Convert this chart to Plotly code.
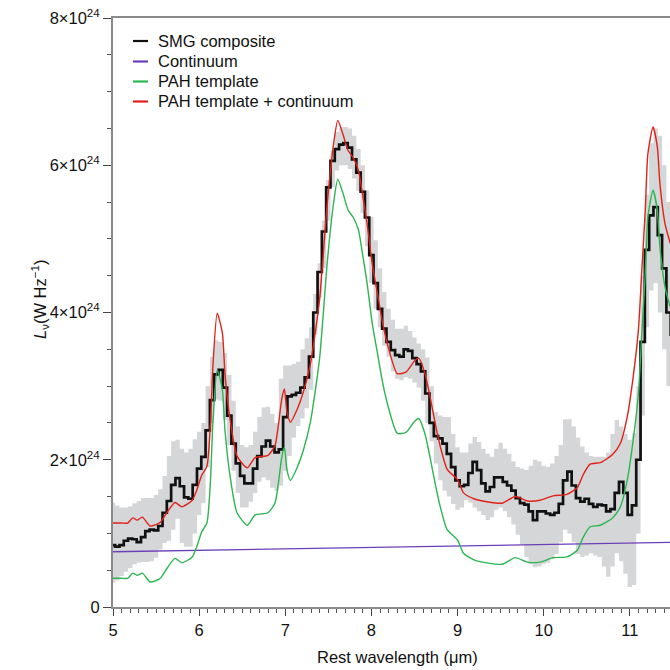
import plotly.graph_objects as go

# Wavelength grid of the binned SMG composite (rest frame, micron)
wave_smg = [5.00, 5.05, 5.10, 5.15, 5.20, 5.25, 5.30, 5.35, 5.40, 5.45,
            5.50, 5.55, 5.60, 5.65, 5.70, 5.75, 5.80, 5.85, 5.90, 5.95,
            6.00, 6.05, 6.10, 6.15, 6.20, 6.25, 6.30, 6.35, 6.40, 6.45,
            6.50, 6.55, 6.60, 6.65, 6.70, 6.75, 6.80, 6.85, 6.90, 6.95,
            7.00, 7.05, 7.10, 7.15, 7.20, 7.25, 7.30, 7.35, 7.40, 7.45,
            7.50, 7.55, 7.60, 7.65, 7.70, 7.75, 7.80, 7.85, 7.90, 7.95,
            8.00, 8.05, 8.10, 8.15, 8.20, 8.25, 8.30, 8.35, 8.40, 8.45,
            8.50, 8.55, 8.60, 8.65, 8.70, 8.75, 8.80, 8.85, 8.90, 8.95,
            9.00, 9.05, 9.10, 9.15, 9.20, 9.25, 9.30, 9.35, 9.40, 9.45,
            9.50, 9.55, 9.60, 9.65, 9.70, 9.75, 9.80, 9.85, 9.90, 9.95,
            10.00, 10.05, 10.10, 10.15, 10.20, 10.25, 10.30, 10.35, 10.40, 10.45,
            10.50, 10.55, 10.60, 10.65, 10.70, 10.75, 10.80, 10.85, 10.90, 10.95,
            11.00, 11.05, 11.10, 11.15, 11.20, 11.25, 11.30, 11.35, 11.40, 11.45,
            11.50]

# SMG composite L_nu in units of 1e24 W/Hz
smg = [0.84, 0.82, 0.84, 0.90, 0.93, 0.92, 0.88, 0.95, 1.03, 1.05,
       1.04, 1.10, 1.28, 1.44, 1.66, 1.75, 1.64, 1.49, 1.47, 1.66,
       1.88, 2.04, 2.40, 2.81, 3.16, 3.22, 2.98, 2.60, 2.22, 1.95,
       1.78, 1.68, 1.68, 1.88, 2.05, 2.18, 2.26, 2.18, 2.10, 2.14,
       2.58, 2.86, 2.88, 2.91, 2.98, 3.12, 3.40, 4.00, 4.55, 5.10,
       5.70, 6.06, 6.22, 6.28, 6.30, 6.24, 6.08, 5.90, 5.64, 5.29,
       4.78, 4.40, 4.05, 3.78, 3.60, 3.49, 3.42, 3.40, 3.50, 3.48,
       3.38, 3.30, 3.20, 2.90, 2.50, 2.32, 2.29, 2.22, 2.08, 1.90,
       1.72, 1.64, 1.66, 1.82, 1.97, 1.86, 1.68, 1.57, 1.63, 1.76,
       1.76, 1.70, 1.65, 1.58, 1.48, 1.41, 1.39, 1.30, 1.18, 1.30,
       1.30, 1.27, 1.25, 1.28, 1.40, 1.72, 1.84, 1.65, 1.48, 1.43,
       1.47, 1.40, 1.36, 1.39, 1.38, 1.30, 1.33, 1.55, 1.70, 1.55,
       1.25, 1.38, 2.00, 3.60, 4.85, 5.32, 5.43, 5.05, 4.60, 4.00,
       3.70]

# Upper and lower edges of the uncertainty band (1e24 W/Hz)
smg_upper = [1.42, 1.38, 1.35, 1.35, 1.37, 1.41, 1.44, 1.48, 1.48, 1.48,
             1.52, 1.60, 1.78, 2.05, 2.25, 2.27, 2.15, 2.10, 2.15, 2.28,
             2.38, 2.50, 3.00, 3.40, 3.62, 3.60, 3.45, 3.15, 2.80, 2.45,
             2.20, 2.17, 2.20, 2.38, 2.58, 2.71, 2.72, 2.62, 2.50, 3.10,
             3.28, 3.28, 3.30, 3.33, 3.50, 3.65, 3.80, 4.25, 4.67, 5.25,
             5.80, 6.20, 6.45, 6.52, 6.52, 6.50, 6.40, 6.22, 6.00, 5.66,
             5.30, 4.98, 4.60, 4.28, 4.05, 3.90, 3.78, 3.78, 3.82, 3.75,
             3.66, 3.58, 3.50, 3.39, 3.00, 2.65, 2.60, 2.58, 2.58, 2.35,
             2.17, 2.10, 2.10, 2.22, 2.31, 2.24, 2.15, 2.08, 2.04, 2.15,
             2.23, 2.15, 2.08, 1.98, 1.90, 1.88, 1.86, 1.92, 2.00, 1.98,
             1.92, 1.90, 1.95, 2.05, 2.20, 2.55, 2.55, 2.45, 2.30, 2.18,
             2.10, 2.05, 2.04, 2.04, 2.04, 2.10, 2.35, 2.54, 2.45, 2.35,
             2.27, 2.36, 3.00, 4.50, 5.60, 6.30, 6.50, 6.40, 6.00, 5.50,
             5.20]

smg_lower = [0.33, 0.36, 0.42, 0.48, 0.53, 0.58, 0.60, 0.61, 0.61, 0.62,
             0.67, 0.78, 0.87, 0.90, 1.05, 1.20, 0.87, 0.82, 0.82, 1.00,
             1.25, 1.41, 1.90, 2.50, 2.82, 2.80, 2.54, 2.20, 1.85, 1.55,
             1.35, 1.35, 1.43, 1.55, 1.70, 1.76, 1.72, 1.62, 1.58, 1.65,
             1.85, 2.05, 2.30, 2.46, 2.56, 2.70, 2.95, 3.70, 4.20, 4.60,
             5.25, 5.70, 5.93, 6.00, 6.00, 5.95, 5.82, 5.65, 5.35, 4.90,
             4.40, 4.05, 3.80, 3.55, 3.40, 3.20, 3.10, 3.08, 3.12, 3.10,
             3.05, 2.98, 2.80, 2.50, 2.25, 1.95, 1.72, 1.58, 1.50, 1.40,
             1.32, 1.35, 1.45, 1.42, 1.35, 1.30, 1.25, 1.18, 1.22, 1.32,
             1.35, 1.30, 1.22, 1.12, 0.98, 0.85, 0.68, 0.58, 0.54, 0.55,
             0.58, 0.60, 0.65, 0.72, 0.88, 1.05, 1.00, 0.88, 0.72, 0.68,
             0.70, 0.73, 0.70, 0.68, 0.55, 0.41, 0.55, 0.73, 0.62, 0.45,
             0.27, 0.30, 1.00, 2.60, 3.80, 4.30, 4.40, 4.00, 3.50, 3.00,
             2.70]

# Continuum (1e24 W/Hz)
wave_cont = [5.0, 11.6]
continuum = [0.75, 0.88]

# PAH template (1e24 W/Hz)
wave_pah = [5.00, 5.10, 5.17, 5.23, 5.28, 5.34, 5.43, 5.50, 5.55, 5.63,
            5.72, 5.80, 5.92, 5.97, 6.03, 6.09, 6.13, 6.16, 6.21, 6.27,
            6.30, 6.36, 6.44, 6.56, 6.65, 6.80, 6.88, 6.92, 6.96, 6.99,
            7.02, 7.06, 7.14, 7.21, 7.29, 7.35, 7.40, 7.49, 7.56, 7.61,
            7.67, 7.73, 7.79, 7.85, 7.89, 7.95, 8.01, 8.07, 8.13, 8.20,
            8.30, 8.40, 8.50, 8.55, 8.62, 8.68, 8.74, 8.80, 8.88, 9.00,
            9.07, 9.19, 9.34, 9.52, 9.67, 9.81, 9.96, 10.11, 10.27, 10.39,
            10.46, 10.54, 10.66, 10.80, 10.89, 10.97, 11.04, 11.10, 11.14, 11.18,
            11.21, 11.27, 11.32, 11.35, 11.41, 11.47]
pah = [0.39, 0.39, 0.39, 0.46, 0.43, 0.46, 0.34, 0.36, 0.39, 0.53,
       0.66, 0.60, 0.68, 0.81, 1.02, 1.14, 1.68, 2.50, 3.22, 2.95,
       2.40, 1.77, 1.28, 1.11, 1.25, 1.28, 1.41, 1.68, 2.04, 2.17,
       1.86, 1.72, 1.90, 2.13, 2.50, 2.95, 3.39, 4.71, 5.48, 5.81,
       5.62, 5.39, 5.29, 5.12, 4.85, 4.40, 3.85, 3.45, 3.05, 2.70,
       2.36, 2.37, 2.52, 2.56, 2.36, 2.04, 1.68, 1.36, 1.05, 0.91,
       0.73, 0.64, 0.60, 0.58, 0.67, 0.61, 0.61, 0.67, 0.68, 0.77,
       0.95, 1.09, 1.11, 1.21, 1.36, 1.72, 2.27, 2.90, 3.72, 4.53,
       5.29, 5.66, 5.39, 4.89, 4.34, 4.07]

# PAH template + continuum (1e24 W/Hz), same wavelengths as the template
pah_cont = [1.14, 1.14, 1.14, 1.21, 1.18, 1.22, 1.10, 1.12, 1.15, 1.29,
            1.42, 1.36, 1.45, 1.58, 1.79, 1.91, 2.45, 3.27, 3.99, 3.72,
            3.17, 2.54, 2.05, 1.89, 2.03, 2.06, 2.19, 2.47, 2.83, 2.96,
            2.65, 2.51, 2.69, 2.92, 3.29, 3.74, 4.19, 5.51, 6.28, 6.61,
            6.42, 6.20, 6.10, 5.93, 5.66, 5.21, 4.66, 4.26, 3.86, 3.51,
            3.17, 3.19, 3.34, 3.38, 3.18, 2.86, 2.50, 2.18, 1.87, 1.73,
            1.55, 1.47, 1.43, 1.41, 1.50, 1.44, 1.45, 1.51, 1.53, 1.62,
            1.80, 1.94, 1.96, 2.07, 2.22, 2.58, 3.13, 3.76, 4.58, 5.39,
            6.15, 6.52, 6.25, 5.75, 5.20, 4.94]

y_tickvals = [0, 2, 4, 6, 8]
y_ticktext = ["0", "2×10<sup>24</sup>", "4×10<sup>24</sup>", "6×10<sup>24</sup>", "8×10<sup>24</sup>"]
x_tickvals = [5, 6, 7, 8, 9, 10, 11]

legend_names = ["SMG composite", "Continuum", "PAH template", "PAH template + continuum"]
C_BLACK = "#111111"
C_PURPLE = "#6b3fb8"
C_GREEN = "#2db552"
C_RED = "#e0221b"
C_BAND = "#d5d6d7"
legend_colors = [C_BLACK, C_PURPLE, C_GREEN, C_RED]

fig = go.Figure()

fig.add_trace(go.Scatter(x=wave_smg, y=smg_lower, mode="lines",
                         line=dict(color=C_BAND, width=0, shape="hvh"),
                         showlegend=False, hoverinfo="skip"))
fig.add_trace(go.Scatter(x=wave_smg, y=smg_upper, mode="lines", fill="tonexty",
                         fillcolor=C_BAND,
                         line=dict(color=C_BAND, width=0, shape="hvh"),
                         showlegend=False, hoverinfo="skip"))
fig.add_trace(go.Scatter(x=wave_smg, y=smg, mode="lines", name=legend_names[0],
                         line=dict(color=C_BLACK, width=2.7, shape="hvh"),
                         showlegend=False))
fig.add_trace(go.Scatter(x=wave_cont, y=continuum, mode="lines", name=legend_names[1],
                         line=dict(color=C_PURPLE, width=1.4), showlegend=False))
fig.add_trace(go.Scatter(x=wave_pah, y=pah, mode="lines", name=legend_names[2],
                         line=dict(color=C_GREEN, width=1.4, shape="spline", smoothing=0.6),
                         showlegend=False))
fig.add_trace(go.Scatter(x=wave_pah, y=pah_cont, mode="lines", name=legend_names[3],
                         line=dict(color=C_RED, width=1.4, shape="spline", smoothing=0.6),
                         showlegend=False))

# geometry of plot area in pixels
L, T, W, H = 113, 18, 557, 589

def px(xp):
    return (xp - L) / W

def py(yp):
    return (T + H - yp) / H

shapes = []
annotations = []
legend_rows = [41, 61.5, 81.5, 101.5]
for name, col, yr in zip(legend_names, legend_colors, legend_rows):
    shapes.append(dict(type="line", xref="paper", yref="paper",
                       x0=px(133), x1=px(148), y0=py(yr), y1=py(yr),
                       line=dict(color=col, width=2.2)))
    annotations.append(dict(text=name, xref="paper", yref="paper",
                            x=px(156), y=py(yr), xanchor="left", yanchor="middle",
                            showarrow=False, font=dict(size=16.5, color="#111111")))

annotations.append(dict(text="Rest wavelength (μm)", xref="paper", yref="paper",
                        x=px(397), y=py(657), xanchor="center", yanchor="middle",
                        showarrow=False, font=dict(size=16.5, color="#111111")))
annotations.append(dict(text="<i>L</i><sub>ν</sub>(W Hz<sup>−1</sup>)", xref="paper", yref="paper",
                        x=px(40), y=py(300), xanchor="center", yanchor="middle",
                        textangle=-90, showarrow=False,
                        font=dict(size=16.5, color="#111111")))

fig.update_layout(
    width=670, height=670,
    margin=dict(l=L, r=670 - L - W, t=T, b=670 - T - H, autoexpand=False),
    paper_bgcolor="white", plot_bgcolor="white",
    font=dict(family="Liberation Sans, Arial, sans-serif", size=16.5, color="#111111"),
    shapes=shapes, annotations=annotations,
    showlegend=False,
)
fig.update_xaxes(range=[5, 11.467], tickvals=x_tickvals, ticks="outside", ticklen=7,
                 tickwidth=1.3, tickcolor="#444444", automargin=False,
                 minor=dict(dtick=0.1, ticks="outside", ticklen=4, tickwidth=1, tickcolor="#555555"),
                 showline=True, linecolor="#8a8a8a", linewidth=2, mirror=True,
                 showgrid=False, zeroline=False, tickfont=dict(size=16.5))
fig.update_yaxes(range=[0, 8], tickvals=y_tickvals, ticktext=y_ticktext, ticks="outside",
                 ticklen=8, tickwidth=1.3, tickcolor="#444444", automargin=False,
                 minor=dict(dtick=0.5, ticks="outside", ticklen=4, tickwidth=1, tickcolor="#555555"),
                 showline=True, linecolor="#8a8a8a", linewidth=2,
                 showgrid=False, zeroline=False, tickfont=dict(size=16.5))

fig.write_html("out.html", config={"displayModeBar": False},
               post_script="document.body.style.margin='0';document.body.style.overflow='hidden';")
